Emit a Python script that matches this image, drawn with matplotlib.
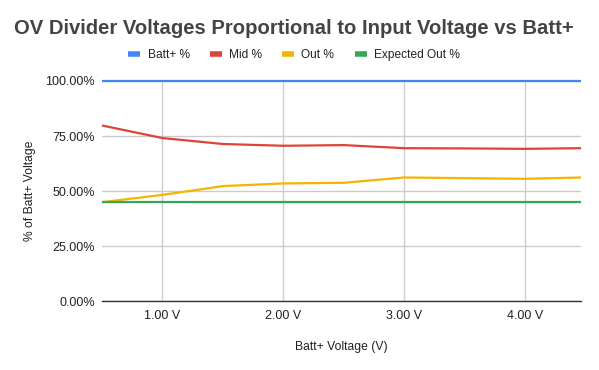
import matplotlib
matplotlib.use("Agg")
import matplotlib.pyplot as plt
from matplotlib.ticker import FuncFormatter
from matplotlib.lines import Line2D

plt.rcParams['font.family'] = ['Liberation Sans', 'DejaVu Sans']

voltage = [0.5, 1.0, 1.5, 2.0, 2.5, 3.0, 3.5, 4.0, 4.46]
batt_pct = [100, 100, 100, 100, 100, 100, 100, 100, 100]
mid_pct = [79.8, 74.1, 71.4, 70.6, 70.9, 69.5, 69.4, 69.2, 69.5]
out_pct = [45.0, 48.3, 52.3, 53.5, 53.8, 56.2, 55.9, 55.6, 56.2]
expected_pct = [45.2] * 9

series_names = ["Batt+ %", "Mid %", "Out %", "Expected Out %"]
colors = ["#4285F4", "#DB4437", "#F4B400", "#34A853"]

x_ticks = [1, 2, 3, 4]
y_ticks = [0, 25, 50, 75, 100]

W, H = 599, 370
fig = plt.figure(figsize=(W / 100, H / 100), dpi=100)
ax = fig.add_axes([102 / W, 1 - 301.3 / H, (581 - 102) / W, (301.3 - 81) / H])

for vals, c in zip([batt_pct, mid_pct, out_pct, expected_pct], colors):
    ax.plot(voltage, vals, color=c, lw=1.6, solid_capstyle='butt', zorder=3, clip_on=False)

ax.set_xlim(voltage[0], voltage[-1])
ax.set_ylim(0, 100)
ax.set_xticks(x_ticks)
ax.set_yticks(y_ticks)
ax.xaxis.set_major_formatter(FuncFormatter(lambda v, p: f"{v:.2f} V"))
ax.yaxis.set_major_formatter(FuncFormatter(lambda v, p: f"{v:.2f}%"))
ax.grid(True, color="#cccccc", lw=1.0, zorder=0)
for s in ["top", "right", "left"]:
    ax.spines[s].set_visible(False)
ax.spines["bottom"].set_color("#333333")
ax.spines["bottom"].set_linewidth(1.0)
ax.tick_params(axis='both', length=0, labelsize=9, labelcolor="#222222")
ax.tick_params(axis='x', pad=6)
ax.tick_params(axis='y', pad=5)

ax.set_xlabel("Batt+ Voltage (V)", fontsize=8.7, color="#222222", labelpad=14)
ax.set_ylabel("% of Batt+ Voltage", fontsize=8.7, color="#222222", labelpad=7)

fig.text(294 / W, 1 - 28 / H, "OV Divider Voltages Proportional to Input Voltage vs Batt+",
         ha="center", va="center", fontsize=14.6, fontweight="bold", color="#444444")

handles = [Line2D([], [], color=c, lw=4, solid_capstyle='butt') for c in colors]
fig.legend(handles, series_names, loc="center", bbox_to_anchor=(294 / W, 1 - 55 / H),
           ncol=4, frameon=False, fontsize=8.6, handlelength=1.0, handletextpad=0.6,
           columnspacing=1.7, labelcolor="#222222")

fig.savefig("out.png", dpi=100, facecolor="white")
